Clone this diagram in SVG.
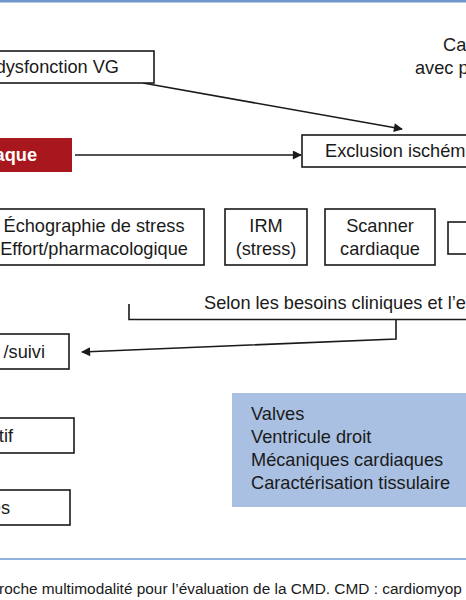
<svg xmlns="http://www.w3.org/2000/svg" width="466" height="600" viewBox="0 0 466 600">
<defs>
<style>
text{font-family:"Liberation Sans",Arial,sans-serif;font-size:18.2px;fill:#1a1a1a}
.box{fill:#fff;stroke:#1a1a1a;stroke-width:1.6}
.con{fill:none;stroke:#1a1a1a;stroke-width:1.6}
.cap{font-size:15.4px}
.w{fill:#fff;font-weight:bold}
</style>
<marker id="ah2" viewBox="0 0 10 10" refX="9" refY="5" markerWidth="11" markerHeight="9" markerUnits="userSpaceOnUse" orient="auto">
<path d="M0,0 L10,5 L0,10 z" fill="#1a1a1a"/>
</marker>
</defs>
<rect x="0" y="0" width="466" height="600" fill="#fff"/>
<rect x="0" y="0" width="466" height="2.5" fill="#7097cc"/>
<rect x="0" y="558" width="466" height="2" fill="#93b1dc"/>

<g id="connectors">
<line class="con" x1="143" y1="83" x2="402" y2="129" marker-end="url(#ah2)"/>
<line class="con" x1="75" y1="155" x2="301" y2="155" marker-end="url(#ah2)"/>
<polyline class="con" points="129,304 129,319.5 470,319.5"/>
<polyline class="con" points="396,319.5 396,339 82,352" marker-end="url(#ah2)"/>
</g>

<g id="n-top-right">
<text x="443" y="51">Car</text>
<text x="415" y="74">avec p</text>
</g>

<g id="n-dysfonction">
<rect class="box" x="-20" y="51" width="174" height="32"/>
<text x="119" y="73" text-anchor="end">dysfonction VG</text>
</g>

<g id="n-red">
<rect x="-20" y="138" width="92" height="34" fill="#a8171d"/>
<text class="w" x="37" y="161" text-anchor="end">aque</text>
</g>

<g id="n-exclusion">
<rect class="box" x="302" y="135" width="180" height="32"/>
<text x="325" y="157">Exclusion ischém</text>
</g>

<g id="n-echo">
<rect class="box" x="-16" y="209" width="220" height="56"/>
<text x="94" y="232" text-anchor="middle">Échographie de stress</text>
<text x="94" y="255" text-anchor="middle">Effort/pharmacologique</text>
</g>

<g id="n-irm">
<rect class="box" x="225" y="209" width="82" height="56"/>
<text x="266" y="232" text-anchor="middle">IRM</text>
<text x="266" y="255" text-anchor="middle">(stress)</text>
</g>

<g id="n-scanner">
<rect class="box" x="325" y="209" width="110" height="56"/>
<text x="380" y="232" text-anchor="middle">Scanner</text>
<text x="380" y="255" text-anchor="middle">cardiaque</text>
</g>

<g id="n-fourth">
<rect class="box" x="448" y="222" width="40" height="32"/>
</g>

<g id="n-selon">
<text x="204" y="309">Selon les besoins cliniques et l’e</text>
</g>

<g id="n-suivi">
<rect class="box" x="-20" y="334" width="89" height="35"/>
<text x="45" y="358" text-anchor="end">/suivi</text>
</g>

<g id="n-tif">
<rect class="box" x="-20" y="418" width="94" height="35"/>
<text x="13" y="442" text-anchor="end">tif</text>
</g>

<g id="n-es">
<rect class="box" x="-20" y="490" width="90" height="35"/>
<text x="10" y="514" text-anchor="end">es</text>
</g>

<g id="n-blue">
<rect x="232" y="393" width="250" height="114" fill="#a9c0e2"/>
<text x="251" y="420">Valves</text>
<text x="251" y="443">Ventricule droit</text>
<text x="251" y="466">Mécaniques cardiaques</text>
<text x="251" y="489">Caractérisation tissulaire</text>
</g>

<text class="cap" x="-1" y="594">roche multimodalité pour l’évaluation de la CMD. CMD : cardiomyop</text>
</svg>
